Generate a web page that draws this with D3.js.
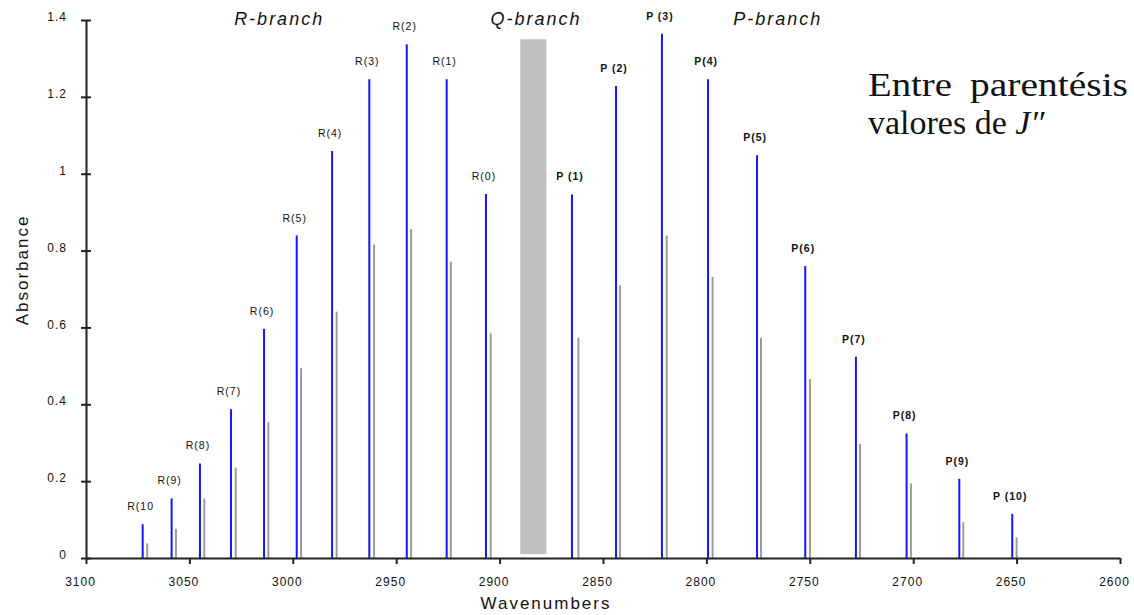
<!DOCTYPE html>
<html>
<head>
<meta charset="utf-8">
<script src="https://cdn.jsdelivr.net/npm/d3@7"></script>
<style>
html,body{margin:0;padding:0;background:#fff;}
svg{display:block;}
</style>
</head>
<body>
<svg id="chart" width="1134" height="615"></svg>
<script>
// ---- data ----
const rLabels = ["R(10","R(9)","R(8)","R(7)","R(6)","R(5)","R(4)","R(3)","R(2)","R(1)","R(0)"];
const rWavenumbers = [3072.6,3058.6,3044.9,3029.9,3013.9,2998.1,2981.0,2963.0,2944.9,2925.6,2906.6];
const rAbsorbance = [0.088,0.155,0.246,0.387,0.596,0.839,1.059,1.246,1.337,1.246,0.947];
const rIsoWavenumbers = [3070.4,3056.5,3042.8,3027.6,3011.8,2996.0,2978.8,2960.7,2942.8,2923.6,2904.3];
const rIsoAbsorbance = [0.038,0.076,0.155,0.235,0.353,0.494,0.641,0.816,0.856,0.771,0.585];

const pLabels = ["P (1)","P (2)","P (3)","P(4)","P(5)","P(6)","P(7)","P(8)","P(9)","P (10)"];
const pWavenumbers = [2865.0,2843.7,2821.5,2799.2,2775.5,2752.2,2727.7,2703.2,2677.7,2652.1];
const pAbsorbance = [0.946,1.228,1.364,1.246,1.048,0.760,0.524,0.324,0.206,0.115];
const pIsoWavenumbers = [2861.9,2841.8,2819.2,2797.0,2773.6,2749.9,2725.7,2701.1,2675.8,2650.0];
const pIsoAbsorbance = [0.573,0.710,0.839,0.731,0.573,0.466,0.297,0.194,0.093,0.054];

const qBand = {from: 2890.0, to: 2877.4, low: 0.01, high: 1.35};

const branchNames = ["R-branch","Q-branch","P-branch"];
const branchCenters = [3006.6, 2882.4, 2765.5]; // wavenumber at centre of each title
const xTicks = [3100,3050,3000,2950,2900,2850,2800,2750,2700,2650,2600];
const yTicks = [0,0.2,0.4,0.6,0.8,1,1.2,1.4];
const yTickLabels = ["0","0.2","0.4","0.6","0.8","1","1.2","1.4"];
const xTitle = "Wavenumbers";
const yTitle = "Absorbance";
const noteLine1 = ["Entre","parentésis"];
const noteLine2 = "valores de ";
const noteJ = "J\u2033";

// ---- scales ----
const svg = d3.select("#chart");
const x = d3.scaleLinear().domain([3100,2600]).range([86,1120]);
const y = d3.scaleLinear().domain([0,1.4]).range([558,20]);

const blue = "#1414ff", gray = "#9c9c9c";

// Q-branch band
svg.append("rect")
  .attr("x", x(qBand.from)).attr("width", x(qBand.to) - x(qBand.from))
  .attr("y", y(qBand.high)).attr("height", y(qBand.low) - y(qBand.high))
  .attr("fill", "#c0c0c0");

// isotope (gray) lines
const iso = rIsoWavenumbers.map((w,i)=>({w, a:rIsoAbsorbance[i]}))
  .concat(pIsoWavenumbers.map((w,i)=>({w, a:pIsoAbsorbance[i]})));
svg.append("g").selectAll("line").data(iso).join("line")
  .attr("x1", d=>x(d.w)).attr("x2", d=>x(d.w))
  .attr("y1", y(0)).attr("y2", d=>y(d.a))
  .attr("stroke", gray).attr("stroke-width", 2);

// main (blue) lines
const main = rWavenumbers.map((w,i)=>({w, a:rAbsorbance[i], l:rLabels[i], b:"R"}))
  .concat(pWavenumbers.map((w,i)=>({w, a:pAbsorbance[i], l:pLabels[i], b:"P"})));
svg.append("g").selectAll("line").data(main).join("line")
  .attr("x1", d=>x(d.w)).attr("x2", d=>x(d.w))
  .attr("y1", y(0)).attr("y2", d=>y(d.a))
  .attr("stroke", blue).attr("stroke-width", 2);

// peak labels
svg.append("g").selectAll("text").data(main).join("text")
  .attr("x", d=>x(d.w) - 2).attr("y", d=>y(d.a) - 14)
  .attr("text-anchor","middle")
  .attr("font-family","'Liberation Sans', Arial, sans-serif")
  .attr("font-size", 10.5)
  .attr("font-weight", d=>d.b==="P" ? "bold" : "normal")
  .attr("letter-spacing", 1)
  .attr("fill","#111")
  .text(d=>d.l);

// axes
const yAxis = d3.axisLeft(y).tickValues(yTicks).tickSize(5).tickSizeOuter(0)
  .tickPadding(14).tickFormat((d,i)=>yTickLabels[i]);
const gy = svg.append("g").attr("transform","translate(86,0)").call(yAxis);
gy.selectAll(".tick line").attr("x1",5);
gy.selectAll(".tick text").attr("dy","0.05em");

const xAxis = d3.axisBottom(x).tickValues(xTicks).tickSize(6).tickSizeOuter(0)
  .tickPadding(13).tickFormat(d=>String(d));
const gx = svg.append("g").attr("transform","translate(0,558)").call(xAxis);
gx.selectAll(".tick text").attr("dx",-6);

[gx,gy].forEach(g=>{
  g.select(".domain").attr("stroke","#222").attr("stroke-width",2);
  g.selectAll(".tick line").attr("stroke","#222").attr("stroke-width",2);
  g.selectAll(".tick text").attr("font-family","'Liberation Sans', Arial, sans-serif")
    .attr("font-size",12).attr("letter-spacing",1).attr("fill","#111");
});

// axis titles
svg.append("text").attr("x", 546).attr("y", 609).attr("text-anchor","middle")
  .attr("font-family","'Liberation Sans', Arial, sans-serif").attr("font-size",17)
  .attr("letter-spacing",2).attr("fill","#111").text(xTitle);
svg.append("text").attr("transform","translate(28,270) rotate(-90)").attr("text-anchor","middle")
  .attr("font-family","'Liberation Sans', Arial, sans-serif").attr("font-size",17)
  .attr("letter-spacing",2).attr("fill","#111").text(yTitle);

// branch titles
svg.append("g").selectAll("text").data(branchNames).join("text")
  .attr("x",(d,i)=>x(branchCenters[i])).attr("y",25).attr("text-anchor","middle")
  .attr("font-family","'Liberation Sans', Arial, sans-serif").attr("font-style","italic")
  .attr("font-size",18).attr("letter-spacing",2).attr("fill","#111")
  .text(d=>d);

// note
const note = svg.append("g").attr("font-family","'Liberation Serif', 'Times New Roman', serif")
  .attr("font-size",34).attr("fill","#111");
note.append("text").attr("x",868).attr("y",96)
  .attr("textLength",84).attr("lengthAdjust","spacingAndGlyphs").text(noteLine1[0]);
note.append("text").attr("x",970).attr("y",96)
  .attr("textLength",158).attr("lengthAdjust","spacingAndGlyphs").text(noteLine1[1]);
const l2 = note.append("text").attr("x",868).attr("y",134).text(noteLine2);
l2.append("tspan").attr("font-style","italic").text(noteJ);
</script>
</body>
</html>
